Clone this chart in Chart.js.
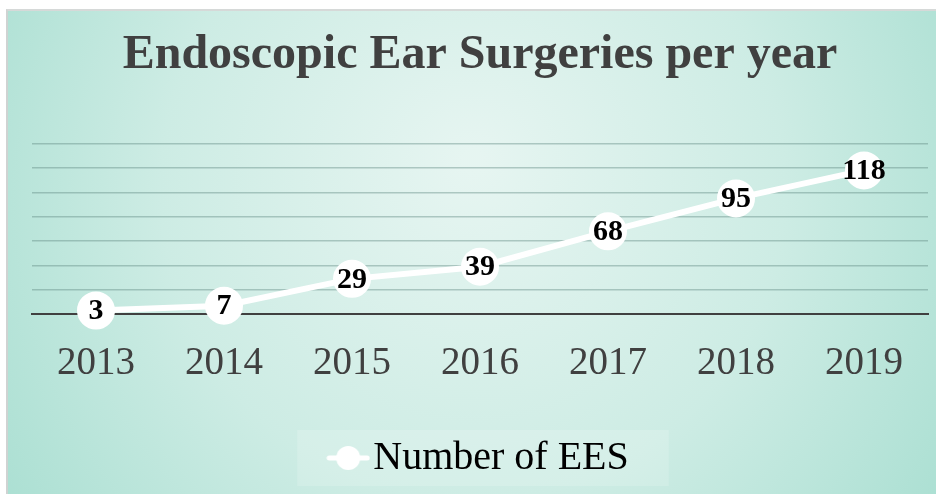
<!DOCTYPE html>
<html>
<head>
<meta charset="utf-8">
<script src="https://cdn.jsdelivr.net/npm/chart.js@4"></script>
<style>
  html, body { margin: 0; padding: 0; background: #fff; }
  #wrap {
    position: absolute; left: 6px; top: 9px;
    width: 930px; height: 485px;
    border-left: 2px solid #cfd3d2; border-top: 2px solid #d6d9d8;
  }
  canvas { display: block; }
</style>
</head>
<body>
<div id="wrap"><canvas id="chart" width="928" height="483"></canvas></div>
<script>
// chart data
const years = ['2013', '2014', '2015', '2016', '2017', '2018', '2019'];
const eesCounts = [3, 7, 29, 39, 68, 95, 118];
const seriesName = 'Number of EES';
const chartTitle = 'Endoscopic Ear Surgeries per year';

const serif = "'Liberation Serif', 'Times New Roman', serif";
const textColor = '#404040';

// legend marker: white line with a dot
const marker = document.createElement('canvas');
marker.width = 44; marker.height = 26;
(function () {
  const c = marker.getContext('2d');
  c.strokeStyle = '#fff'; c.lineWidth = 5; c.lineCap = 'round';
  c.beginPath(); c.moveTo(3, 13); c.lineTo(41, 13); c.stroke();
  c.fillStyle = '#fff';
  c.beginPath(); c.arc(22, 13, 12, 0, Math.PI * 2); c.fill();
})();

// background gradient + legend panel
const backdrop = {
  id: 'backdrop',
  afterLayout(chart) {
    // nudge the legend a bit to the right, like the original
    if (chart.legend) { chart.legend.left += 6; chart.legend.right += 6; }
  },
  beforeDraw(chart) {
    const { ctx, width, height } = chart;
    ctx.save();
    const g = ctx.createRadialGradient(465, 150, 10, 465, 200, 560);
    g.addColorStop(0, '#e6f5f1');
    g.addColorStop(0.55, '#cdece4');
    g.addColorStop(1, '#aadfd2');
    ctx.fillStyle = g;
    ctx.fillRect(0, 0, width, height);
    const lg = chart.legend;
    if (lg && lg.legendHitBoxes && lg.legendHitBoxes.length) {
      const hb = lg.legendHitBoxes[0];
      const cy = hb.top + hb.height / 2;
      ctx.fillStyle = 'rgba(255,255,255,0.16)';
      ctx.fillRect(hb.left - 46, cy - 28, hb.width + 86, 56);
    }
    ctx.restore();
  }
};

// value labels drawn inside the points
const valueLabels = {
  id: 'valueLabels',
  afterDatasetsDraw(chart) {
    const { ctx } = chart;
    const meta = chart.getDatasetMeta(0);
    ctx.save();
    ctx.font = 'bold 30px ' + serif;
    ctx.fillStyle = '#000';
    ctx.textAlign = 'center';
    ctx.textBaseline = 'middle';
    meta.data.forEach((pt, i) => {
      ctx.fillText(String(eesCounts[i]), pt.x, pt.y + 1);
    });
    ctx.restore();
  }
};

new Chart(document.getElementById('chart'), {
  type: 'line',
  data: {
    labels: years,
    datasets: [{
      label: seriesName,
      data: eesCounts,
      borderColor: '#ffffff',
      borderWidth: 6,
      backgroundColor: '#ffffff',
      pointBackgroundColor: '#ffffff',
      pointBorderColor: '#ffffff',
      pointRadius: 16,
      pointHoverRadius: 16,
      pointStyle: 'circle',
      tension: 0,
      clip: false
    }]
  },
  options: {
    responsive: false,
    animation: false,
    layout: { autoPadding: false, padding: { left: 24, right: 8, bottom: 6 } },
    plugins: {
      title: {
        display: true,
        text: chartTitle,
        color: textColor,
        font: { family: serif, size: 48, weight: 'bold' },
        padding: { top: 16, bottom: 59 }
      },
      legend: {
        position: 'bottom',
        labels: {
          color: textColor,
          font: { family: serif, size: 40 },
          usePointStyle: true,
          pointStyle: marker,
          pointStyleWidth: 10,
          padding: 14,
          generateLabels: () => [{
            text: seriesName,
            pointStyle: marker,
            fillStyle: '#fff',
            strokeStyle: '#fff',
            lineWidth: 0,
            datasetIndex: 0
          }]
        }
      },
      tooltip: { enabled: false }
    },
    scales: {
      x: {
        offset: true,
        grid: { display: false, drawTicks: false },
        border: { display: true, color: textColor, width: 2 },
        ticks: { color: textColor, font: { family: serif, size: 39 }, padding: 26 },
        afterFit: (scale) => { scale.height += 11; }
      },
      y: {
        min: 0,
        max: 140,
        ticks: { display: false, stepSize: 20 },
        border: { display: false },
        grid: {
          drawTicks: false,
          color: (c) => c.tick.value === 0 ? textColor : 'rgba(95,135,128,0.42)',
          lineWidth: (c) => c.tick.value === 0 ? 2 : 1.5
        }
      }
    }
  },
  plugins: [backdrop, valueLabels]
});
</script>
</body>
</html>
